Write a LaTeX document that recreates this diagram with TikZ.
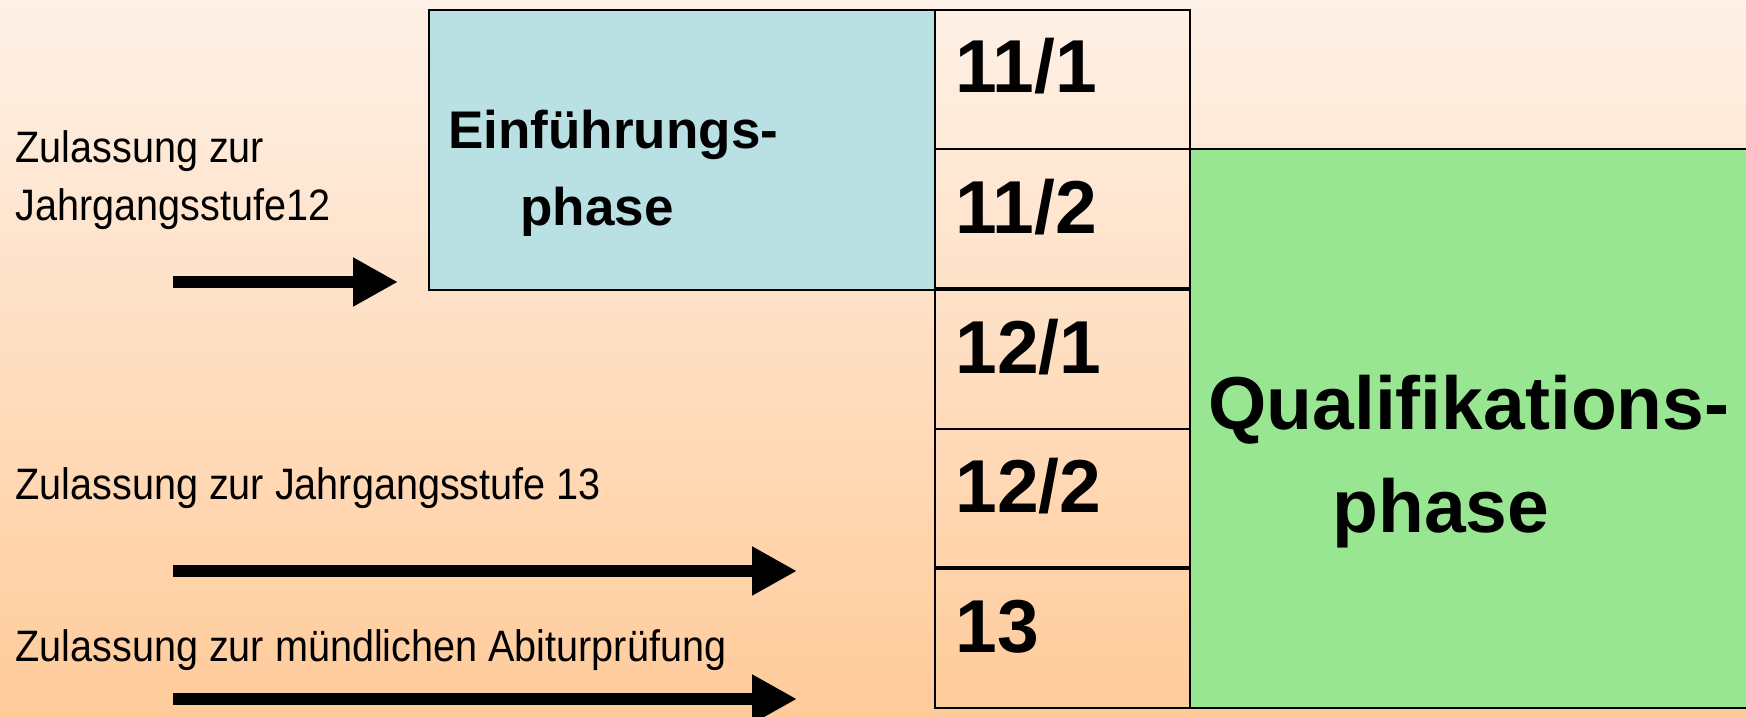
\documentclass[tikz,border=0pt]{standalone}
\usepackage{fontspec}
\setmainfont{Liberation Sans}
\newfontfamily\narrowfont[FakeStretch=0.9]{Liberation Sans}
\usetikzlibrary{arrows.meta}
\definecolor{bgtop}{HTML}{FEF1E7}
\definecolor{bgbot}{HTML}{FFCB9A}
\definecolor{einblue}{HTML}{B9E0E3}
\definecolor{qualgreen}{HTML}{99E692}
\begin{document}
\begin{tikzpicture}[x=0.5pt,y=-0.5pt,
  box/.style={draw=black,line width=0.8pt,inner sep=0pt,outer sep=0pt},
  cellbox/.style={box,minimum width=127.5pt,minimum height=69.75pt},
  thickline/.style={line width=2.2pt},
  lbl/.style={font=\narrowfont\fontsize{22}{29}\selectfont,inner sep=0pt,align=left},
  sem/.style={font=\bfseries\fontsize{37.5}{40}\selectfont,inner sep=0pt,anchor=base west},
  phasetxt/.style={font=\bfseries\fontsize{26.5}{38.5}\selectfont,inner sep=0pt,align=left,anchor=north west},
  qualtxt/.style={font=\bfseries\fontsize{37.5}{51.5}\selectfont,inner sep=0pt,align=left,anchor=north west},
  bigarrow/.style={line width=6pt,-{Triangle[length=22.5pt,width=23pt]}},
]
\shade[top color=bgtop,bottom color=bgbot] (0,0) rectangle (1746,717);
\useasboundingbox (0,0) rectangle (1746,717);

% green qualification phase
\node[box,fill=qualgreen,minimum width=282pt,minimum height=279.5pt] (qual) at (1472,428.5) {};
% blue introduction phase
\node[box,fill=einblue,minimum width=253pt,minimum height=140pt] (einf) at (682,150) {};

% semester cells
\node[cellbox] (c111) at (1062.5,79.5) {};
\node[cellbox] (c112) at (1062.5,219.25) {};
\node[cellbox] (c121) at (1062.5,359.5) {};
\node[cellbox] (c122) at (1062.5,498.5) {};
\node[cellbox] (c13)  at (1062.5,638) {};
\draw[thickline] (c112.south west) -- (c112.south east);
\draw[thickline] (c122.south west) -- (c122.south east);

% semester labels
\node[sem] (t111) at (955,93) {11/1};
\node[sem] (t112) at (955,233) {11/2};
\node[sem] (t121) at (955,373) {12/1};
\node[sem] (t122) at (955,512) {12/2};
\node[sem] (t13)  at (955,652) {13};

% phase labels
\node[phasetxt] (teinf) at (448,110) {Einführungs-\\\hspace*{36pt}phase};
\node[qualtxt] (tqual) at (1208,375) {Qualifikations-\\\hspace*{62pt}phase};

% left labels
\node[lbl,anchor=north west] (l12) at (15,130) {Zulassung zur\\Jahrgangsstufe12};
\node[lbl,anchor=base west] (l13) at (15,499) {Zulassung zur Jahrgangsstufe 13};
\node[lbl,anchor=base west] (labi) at (15,661) {Zulassung zur m\"undlichen Abiturpr\"ufung};

% arrows
\coordinate (a1s) at (173,282);
\coordinate (a1e) at (398,282);
\coordinate (a2s) at (173,571);
\coordinate (a2e) at (797,571);
\coordinate (a3s) at (173,699);
\coordinate (a3e) at (797,699);
\draw[bigarrow] (a1s) -- (a1e);
\draw[bigarrow] (a2s) -- (a2e);
\draw[bigarrow] (a3s) -- (a3e);
\end{tikzpicture}
\end{document}
